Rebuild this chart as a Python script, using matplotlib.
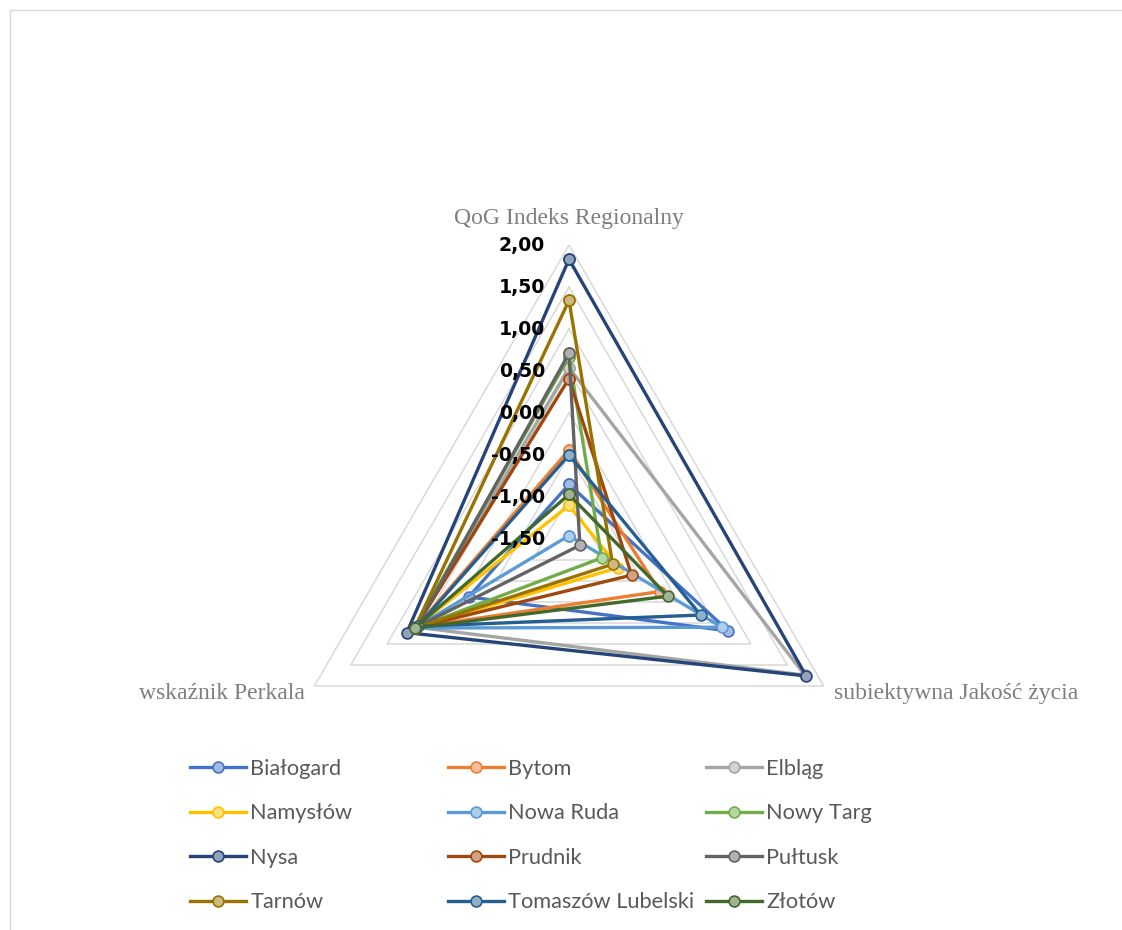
import numpy as np
import matplotlib
matplotlib.use("Agg")
import matplotlib.pyplot as plt
from matplotlib.patches import Rectangle
from matplotlib import colors as mcolors

# --- data ---
axes_names = ["QoG Indeks Regionalny", "subiektywna Jakość życia", "wskaźnik Perkala"]
cities = ["Białogard", "Bytom", "Elbląg", "Namysłów", "Nowa Ruda", "Nowy Targ",
          "Nysa", "Prudnik", "Pułtusk", "Tarnów", "Tomaszów Lubelski", "Złotów"]
qog = [-0.85, -0.44, 0.54, -1.10, -1.46, 0.67, 1.83, 0.41, 0.71, 1.34, -0.50, -0.97]
jakosc = [0.69, -0.25, 1.74, -0.82, 0.60, -1.05, 1.76, -0.64, -1.35, -0.90, 0.31, -0.14]
perkal = [-0.12, 0.60, 0.60, 0.62, 0.62, 0.63, 0.73, 0.61, 0.60, 0.62, 0.58, 0.62]
levels = [-1.5, -1.0, -0.5, 0.0, 0.5, 1.0, 1.5, 2.0]
level_labels = ["-1,50", "-1,00", "-0,50", "0,00", "0,50", "1,00", "1,50", "2,00"]

colors = ["#4472C4", "#ED7D31", "#A5A5A5", "#FFC000", "#5B9BD5", "#70AD47",
          "#264478", "#9E480E", "#636363", "#997300", "#255E91", "#43682B"]

W, H = 1122, 930
fig = plt.figure(figsize=(W / 100, H / 100), dpi=100)

# chart border (thin light grey)
fig.patches.append(Rectangle((10 / W, -0.05), 1.2, 1 - 10 / H + 0.05, transform=fig.transFigure,
                             fill=False, edgecolor="#d9d9d9", lw=1.0))

cx, cy, R = 569, 539, 294
ax = fig.add_axes([(cx - R) / W, (H - cy - R) / H, 2 * R / W, 2 * R / H], projection="polar")
ax.set_theta_offset(np.pi / 2)
ax.set_theta_direction(-1)
ax.set_ylim(levels[0], levels[-1])
ax.grid(False)
ax.set_xticks([])
ax.set_yticks([])
ax.spines["polar"].set_visible(False)
ax.patch.set_visible(False)

angles = np.linspace(0, 2 * np.pi, len(axes_names), endpoint=False)
closed = np.append(angles, angles[0])

# triangular gridlines
for lv in levels[1:]:
    ax.plot(closed, [lv] * len(closed), color="#d9d9d9", lw=1.1, zorder=1)

def tint(c, f=0.5):
    rgb = np.array(mcolors.to_rgb(c))
    return tuple(rgb + (1 - rgb) * f)

handles = []
for i, city in enumerate(cities):
    vals = [qog[i], jakosc[i], perkal[i]]
    vals.append(vals[0])
    ln, = ax.plot(closed, vals, color=colors[i], lw=2.4, marker="o", ms=7.8,
                  mfc=tint(colors[i]), mec=colors[i], mew=1.2, label=city,
                  zorder=3 + i, clip_on=False)
    handles.append(ln)

# value labels along the top axis
for lv, lab in zip(levels, level_labels):
    ax.annotate(lab, xy=(0, lv), xytext=(-24, 0), textcoords="offset pixels",
                ha="right", va="center", fontsize=13.6, fontweight="bold",
                family="DejaVu Sans", color="black", annotation_clip=False, zorder=40)

# category labels
serif = dict(family="Liberation Serif", fontsize=17, color="#7f7f7f")
ax.annotate(axes_names[0], xy=(angles[0], levels[-1]), xytext=(0, 27),
            textcoords="offset pixels", ha="center", va="center", annotation_clip=False, **serif)
ax.annotate(axes_names[1], xy=(angles[1], levels[-1]), xytext=(10, -7),
            textcoords="offset pixels", ha="left", va="center", annotation_clip=False, **serif)
ax.annotate(axes_names[2], xy=(angles[2], levels[-1]), xytext=(-10, -7),
            textcoords="offset pixels", ha="right", va="center", annotation_clip=False, **serif)

# legend: 3 equal-width columns, filled row by row
col_x = [190, 448, 706]
for c in range(3):
    hs = handles[c::3]
    fig.legend(handles=hs, labels=[h.get_label() for h in hs], loc="upper left",
               bbox_to_anchor=(col_x[c] / W, 1 - 759 / H), frameon=False,
               borderpad=0, borderaxespad=0, handlelength=2.57, handletextpad=0.2,
               labelspacing=1.12, prop=dict(family="Lato", size=15.7), labelcolor="#595959")

fig.savefig("out.png", dpi=100)
